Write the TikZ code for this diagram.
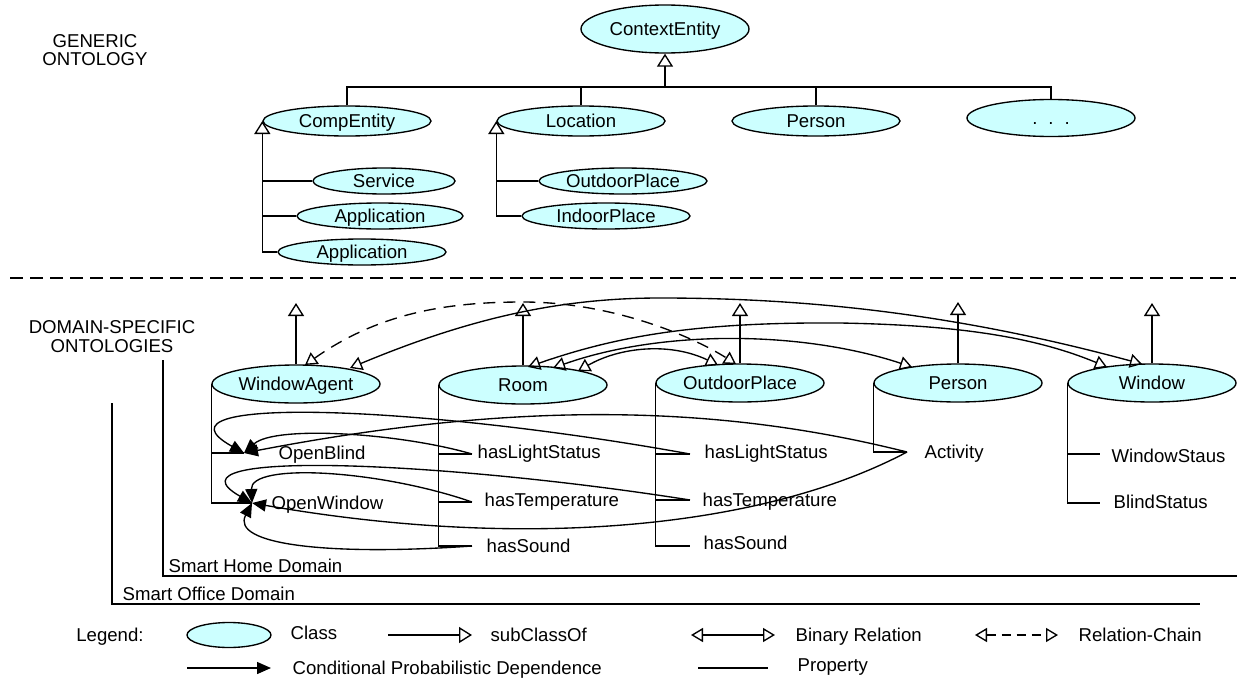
\documentclass[tikz,border=0pt]{standalone}
\usepackage{fontspec}
\setmainfont{Liberation Sans}
\usetikzlibrary{shapes.geometric,arrows.meta}
\definecolor{clsfill}{RGB}{204,255,255}
\begin{document}
\begin{tikzpicture}[x=1pt,y=-1pt,line width=1.35pt,
  every node/.style={font=\fontsize{18.6}{18.6}\selectfont,inner sep=0pt,text height=13.5pt,text depth=0pt},
  cls/.style={ellipse,draw,fill=clsfill,minimum width=168pt,minimum height=#1},
  cls/.default=30pt,
  lbl/.style={anchor=west},
  sub/.style={-{Triangle[open,length=13pt,width=16pt]}},
  bin/.style={{Triangle[open,length=12pt,width=14pt]}-{Triangle[open,length=12pt,width=14pt]}},
  chain/.style={bin,dash pattern=on 12pt off 8pt},
  cpd/.style={-{Triangle[length=14pt,width=12pt]}}]
\fill[white] (0,0) rectangle (1244,680);
\useasboundingbox (0,0) rectangle (1244,680);

% ---------- generic ontology ----------
\node[anchor=base] (gen1) at (95,47) {GENERIC};
\node[anchor=base] (gen2) at (95,65) {ONTOLOGY};

\node[cls=48pt] (ce) at (665,29) {ContextEntity};
\node[cls] (comp) at (347,121) {CompEntity};
\node[cls] (loc) at (581,121) {Location};
\node[cls] (pers) at (816,121) {Person};
\node[cls=37pt] (dots) at (1051,118) {.\hspace{11pt}.\hspace{11pt}.};

\node[cls=26pt,minimum width=142pt] (svc) at (384,181) {Service};
\node[cls=26pt,minimum width=166pt] (app1) at (380,216) {Application};
\node[cls=26pt] (app2) at (362,252) {Application};
\node[cls=26pt] (outd) at (623,181) {OutdoorPlace};
\node[cls=26pt] (ind) at (606,216) {IndoorPlace};

\coordinate (barL) at (347,87);
\coordinate (barR) at (1051,87);
\draw (comp.north) -- (barL) -- (barR) -- (dots.north);
\draw (loc.north) -- (loc.north |- barL);
\draw (pers.north) -- (pers.north |- barL);
\draw[sub] (ce.south |- barL) -- (ce.south);

\draw[sub] (app2.west) -| (comp.west);
\draw (svc.west) -- (svc.west -| comp.west);
\draw (app1.west) -- (app1.west -| comp.west);
\draw[sub] (ind.west) -| (loc.west);
\draw (outd.west) -- (outd.west -| loc.west);

% separator
\draw[dash pattern=on 13pt off 7pt] (10,278) -- (1236,278);

% ---------- domain ontologies ----------
\node[anchor=base] (dom1) at (112,333) {DOMAIN-SPECIFIC};
\node[anchor=base] (dom2) at (112,352) {ONTOLOGIES};

% domain boxes
\draw (163,360) -- (163,576) -- (1237,576);
\node[anchor=base west] (homel) at (168,572) {Smart Home Domain};
\draw (112,403) -- (112,604) -- (1200,604);
\node[anchor=base west] (offl) at (122,600) {Smart Office Domain};

\node[cls=38pt] (wa) at (296,384) {WindowAgent};
\node[cls=38pt] (room) at (523,385) {Room};
\node[cls=38pt] (op) at (740,383) {OutdoorPlace};
\node[cls=38pt] (dper) at (958,383) {Person};
\node[cls=38pt] (win) at (1152,383) {Window};

% subclass arrows up
\coordinate (waU) at (296,303);
\coordinate (roomU) at (523,303);
\coordinate (opU) at (740,303);
\coordinate (dperU) at (958,302);
\coordinate (winU) at (1152,303);
\draw[sub] (wa.north) -- (waU);
\draw[sub] (room.north) -- (roomU);
\draw[sub] (op.north) -- (opU);
\draw[sub] (dper.north) -- (dperU);
\draw[sub] (win.north) -- (winU);

% property branch points
\coordinate (ob) at (244,453);
\coordinate (ow) at (252,503);
\coordinate (rls) at (472,454);
\coordinate (rtp) at (472,502);
\coordinate (rsd) at (472,546);
\coordinate (ols) at (690,454);
\coordinate (otp) at (690,500);
\coordinate (osd) at (690,546);
\coordinate (act) at (907,452);
\coordinate (wst) at (1100,454);
\coordinate (bst) at (1100,503);

\draw (wa.west) |- (ob);
\draw (wa.west) |- (ow);
\draw (room.west) |- (rls);
\draw (room.west) |- (rtp);
\draw (room.west) |- (rsd);
\draw (op.west) |- (ols);
\draw (op.west) |- (otp);
\draw (op.west) |- (osd);
\draw (dper.west) |- (act);
\draw (win.west) |- (wst);
\draw (win.west) |- (bst);

\node[lbl] (obl) at (278,453) {OpenBlind};
\node[lbl] (owl) at (271,503) {OpenWindow};
\node[lbl] (rlsl) at (477,452) {hasLightStatus};
\node[lbl] (rtpl) at (484,500) {hasTemperature};
\node[lbl] (rsdl) at (486,546) {hasSound};
\node[lbl] (olsl) at (704,452) {hasLightStatus};
\node[lbl] (otpl) at (702,500) {hasTemperature};
\node[lbl] (osdl) at (703,543) {hasSound};
\node[lbl] (actl) at (924,452) {Activity};
\node[lbl] (wstl) at (1111,456) {WindowStaus};
\node[lbl] (bstl) at (1113,502) {BlindStatus};

% binary relations
\coordinate (waB) at (350,368);
\coordinate (waC) at (305,365);
\coordinate (roomA) at (528,367);
\coordinate (roomB) at (553,368);
\coordinate (roomC) at (578,371);
\coordinate (opA) at (718,365);
\coordinate (opC) at (736,364);
\coordinate (dperB) at (912,367);
\coordinate (winA) at (1107,367);
\coordinate (winB) at (1142,364);

\draw[bin] (waB) .. controls (470,318) and (560,298) .. (660,298) .. controls (800,298) and (950,312) .. (winB);
\draw[bin] (roomA) .. controls (620,335) and (700,322) .. (840,323) .. controls (950,325) and (1030,335) .. (winA);
\draw[bin] (roomB) .. controls (660,330) and (800,330) .. (dperB);
\draw[bin] (roomC) .. controls (620,347) and (670,342) .. (opA);
\draw[chain] (waC) .. controls (380,312) and (450,302) .. (523,302) .. controls (610,302) and (690,335) .. (opC);

% conditional probabilistic dependences
\draw[cpd] (ols) .. controls (420,405) and (140,395) .. (ob);
\draw[cpd] (rls) .. controls (400,433) and (275,425) .. (ob);
\draw[cpd] (act) .. controls (720,405) and (520,400) .. (ob);
\draw[cpd] (rtp) .. controls (380,470) and (250,462) .. (ow);
\draw[cpd] (otp) .. controls (450,462) and (155,448) .. (ow);
\draw[cpd] (act) .. controls (760,530) and (520,550) .. (ow);
\draw[cpd] (rsd) .. controls (330,556) and (230,545) .. (ow);

% ---------- legend ----------
\node (lg) at (110,635) {Legend:};
\node[cls=25pt,minimum width=84pt] (lgc) at (229,635) {};
\node[lbl] (lgct) at (290,633) {Class};
\coordinate (lsa) at (388,635);
\coordinate (lsb) at (472,635);
\draw[sub] (lsa) -- (lsb);
\node[lbl] (lsbt) at (490,635) {subClassOf};
\coordinate (lba) at (691,635);
\coordinate (lbb) at (775,635);
\draw[bin] (lba) -- (lbb);
\node[lbl] (lbt) at (795,635) {Binary Relation};
\coordinate (lca) at (975,635);
\coordinate (lcb) at (1058,635);
\draw[bin,dash pattern=on 9pt off 6pt] (lca) -- (lcb);
\node[lbl] (lct) at (1078,635) {Relation-Chain};
\coordinate (lda) at (187,668);
\coordinate (ldb) at (271,668);
\draw[cpd] (lda) -- (ldb);
\node[lbl] (ldt) at (292,668) {Conditional Probabilistic Dependence};
\coordinate (lpa) at (698,668);
\coordinate (lpb) at (768,668);
\draw (lpa) -- (lpb);
\node[lbl] (lpt) at (797,665) {Property};
\end{tikzpicture}
\end{document}
